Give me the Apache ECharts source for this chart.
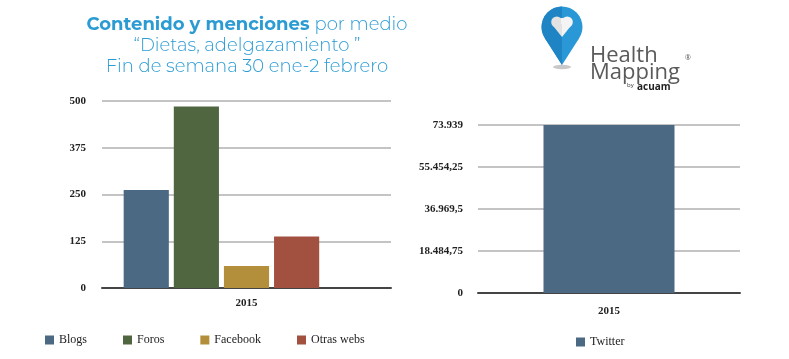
<!DOCTYPE html>
<html>
<head>
<meta charset="utf-8">
<script src="https://cdn.jsdelivr.net/npm/echarts@6/dist/echarts.min.js"></script>
<style>html,body{margin:0;padding:0;background:#fff}#c{width:789px;height:359px}</style>
</head>
<body>
<div id="c"></div>
<script>
const categories = ['2015'];
const leftSeriesNames = ['Blogs', 'Foros', 'Facebook', 'Otras webs'];
const leftValues = [262, 485, 59, 138];
const rightSeriesName = 'Twitter';
const rightValues = [73939];
const leftTicks = ['0', '125', '250', '375', '500'];
const rightTicks = ['0', '18.484,75', '36.969,5', '55.454,25', '73.939'];
const colors = ['#4b6983', '#506641', '#b38e3b', '#a2503f'];
const twitterColor = '#4b6983';

const serif = '"Liberation Serif", "DejaVu Serif", serif';
const chart = echarts.init(document.getElementById('c'), null, {renderer: 'canvas'});

const leftSeries = leftSeriesNames.map((n, i) => ({
  name: n, type: 'bar', xAxisIndex: 0, yAxisIndex: 0,
  data: [leftValues[i]], itemStyle: {color: colors[i]},
  barGap: '11%', barCategoryGap: '15%'
}));
// empty Twitter slot in the left chart (keeps the group aligned as in the original)
leftSeries.push({name: rightSeriesName, type: 'bar', xAxisIndex: 0, yAxisIndex: 0,
  data: ['-'], itemStyle: {color: twitterColor}, barGap: '11%', barCategoryGap: '15%'});

const axisLab = {fontFamily: serif, fontSize: 11, fontWeight: 'bold', color: '#222'};
const titleFont = 'Montserrat, "Open Sans", Lato, sans-serif';

chart.setOption({
  animation: false,
  title: {
    left: 242, top: 9, textAlign: 'center',
    text: '{b|Contenido y menciones} {r|por medio}\n{r|“Dietas, adelgazamiento ”}\n{r|Fin de semana 30 ene-2 febrero}',
    textStyle: {
      lineHeight: 21,
      rich: {
        b: {fontFamily: titleFont, fontWeight: 'bold', fontSize: 18, color: '#2b9bd3', lineHeight: 21},
        r: {fontFamily: titleFont, fontWeight: 300, fontSize: 18, color: '#2b9bd3', lineHeight: 21}
      }
    }
  },
  legend: [
    {data: leftSeriesNames, left: 40, top: 329, itemWidth: 9, itemHeight: 9, itemGap: 36,
     icon: 'rect', textStyle: {fontFamily: serif, fontSize: 12, color: '#222'}},
    {data: [rightSeriesName], left: 571, top: 331, itemWidth: 9, itemHeight: 9,
     icon: 'rect', textStyle: {fontFamily: serif, fontSize: 12, color: '#222'}}
  ],
  grid: [
    {left: 102, right: 398, top: 101, bottom: 71},
    {left: 478, right: 49, top: 125, bottom: 66}
  ],
  xAxis: [
    {type: 'category', gridIndex: 0, data: categories,
     axisLine: {lineStyle: {color: '#444', width: 2}}, axisTick: {show: false},
     axisLabel: Object.assign({margin: 10}, axisLab)},
    {type: 'category', gridIndex: 1, data: categories,
     axisLine: {lineStyle: {color: '#444', width: 2}}, axisTick: {show: false},
     axisLabel: Object.assign({margin: 13}, axisLab)}
  ],
  yAxis: [
    {type: 'value', gridIndex: 0, min: 0, max: 500, interval: 125,
     axisLine: {show: false}, axisTick: {show: false},
     splitLine: {lineStyle: {color: '#b0b0b0', width: 1.5}},
     axisLabel: Object.assign({margin: 16, formatter: (v) => leftTicks[Math.round(v / 125)]}, axisLab)},
    {type: 'value', gridIndex: 1, min: 0, max: 73939, interval: 18484.75,
     axisLine: {show: false}, axisTick: {show: false},
     splitLine: {lineStyle: {color: '#b0b0b0', width: 1.5}},
     axisLabel: Object.assign({margin: 15, formatter: (v) => rightTicks[Math.round(v / 18484.75)]}, axisLab)}
  ],
  series: leftSeries.concat([
    {name: rightSeriesName, type: 'bar', xAxisIndex: 1, yAxisIndex: 1, data: rightValues,
     itemStyle: {color: twitterColor}, barCategoryGap: '50%'}
  ]),
  graphic: [
    {type: 'circle', x: 562, y: 67, scaleY: 0.25, shape: {cx: 0, cy: 0, r: 9}, style: {fill: '#c8c8c8'}},
    {type: 'circle', shape: {cx: 562, cy: 27, r: 20.5}, style: {fill: '#2a98d6'}},
    {type: 'polygon', shape: {points: [[544.75, 38.07], [579.25, 38.07], [562, 65]]}, style: {fill: '#2a98d6'}},
    {type: 'sector', shape: {cx: 562, cy: 27, r: 20.5, startAngle: Math.PI / 2, endAngle: Math.PI * 1.5, clockwise: true}, style: {fill: '#1f84c4'}},
    {type: 'polygon', shape: {points: [[562, 27], [544.75, 38.07], [562, 65]]}, style: {fill: '#1f84c4'}},
    {type: 'circle', shape: {cx: 556.8, cy: 22, r: 5.6}, style: {fill: '#e3e3e3'}},
    {type: 'circle', shape: {cx: 567.2, cy: 22, r: 5.6}, style: {fill: '#f4f4f4'}},
    {type: 'polygon', shape: {points: [[551.4, 23.8], [562, 23.8], [562, 37]]}, style: {fill: '#e3e3e3'}},
    {type: 'polygon', shape: {points: [[562, 23.8], [572.6, 23.8], [562, 37]]}, style: {fill: '#f4f4f4'}},
    {type: 'rect', shape: {x: 561, y: 18, width: 2, height: 6}, style: {fill: '#f4f4f4'}},
    {type: 'text', x: 590, y: 45, style: {text: 'Health', font: '22px "Open Sans", Lato, sans-serif', fill: '#5a5a5a', textBaseline: 'alphabetic'}},
    {type: 'text', x: 590, y: 62, style: {text: 'Mapping', font: '22px "Open Sans", Lato, sans-serif', fill: '#5a5a5a', textBaseline: 'alphabetic'}},
    {type: 'text', x: 685, y: 54, style: {text: '®', font: '7px "Open Sans", sans-serif', fill: '#555', textBaseline: 'alphabetic'}},
    {type: 'text', x: 627, y: 82, style: {text: 'by', font: '6px "Open Sans", sans-serif', fill: '#333', textBaseline: 'alphabetic'}},
    {type: 'text', x: 637, y: 82, style: {text: 'acuam', font: 'bold 10px "Open Sans", sans-serif', fill: '#222', textBaseline: 'alphabetic'}}
  ]
});
</script>
</body>
</html>
